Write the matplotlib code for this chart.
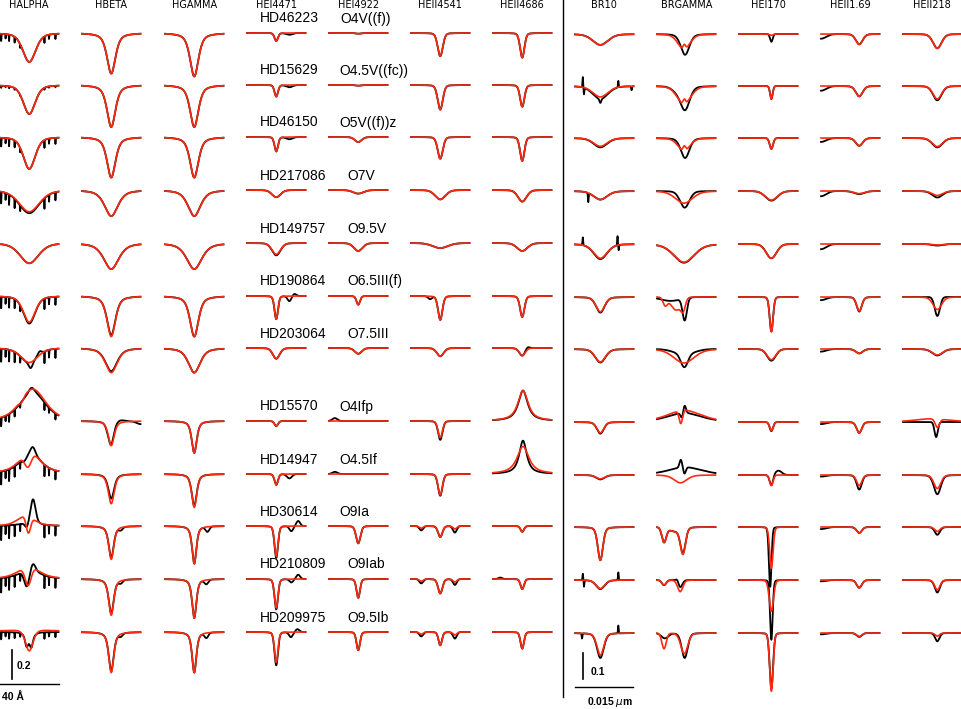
import numpy as np
import matplotlib
matplotlib.use("Agg")
import matplotlib.pyplot as plt
from matplotlib.lines import Line2D

plt.rcParams['font.family'] = ['Liberation Sans', 'DejaVu Sans']

# ---------------------------------------------------------------- data
STARS = ["HD46223", "HD15629", "HD46150", "HD217086", "HD149757", "HD190864",
         "HD203064", "HD15570", "HD14947", "HD30614", "HD210809", "HD209975"]
SPTYPES = ["O4V((f))", "O4.5V((fc))", "O5V((f))z", "O7V", "O9.5V", "O6.5III(f)",
           "O7.5III", "O4Ifp", "O4.5If", "O9Ia", "O9Iab", "O9.5Ib"]
OPT_LINES = ["HALPHA", "HBETA", "HGAMMA", "HEI4471", "HEI4922", "HEII4541", "HEII4686"]
IR_LINES = ["BR10", "BRGAMMA", "HEI170", "HEII1.69", "HEII218"]

# main line: depth of model (red) and observed (black) profile, FWHM in Angstrom
HALPHA_red = [0.20, 0.20, 0.22, 0.15, 0.14, 0.18, 0.10, 0, 0, 0, 0, 0.15]
HALPHA_black = [0.20, 0.20, 0.22, 0.16, 0.14, 0.19, 0.10, 0, 0, 0, 0, 0.07]
HALPHA_fwhm = [10.4, 9.7, 9.7, 16.6, 15.2, 9.7, 13.8, 10, 10, 10, 10, 6.2]

HBETA_red = [0.28, 0.29, 0.28, 0.18, 0.18, 0.28, 0.17, 0.17, 0.205, 0.23, 0.25, 0.28]
HBETA_black = [0.28, 0.29, 0.28, 0.18, 0.18, 0.27, 0.16, 0.145, 0.17, 0.22, 0.24, 0.27]
HBETA_fwhm = [6.9, 6.9, 6.9, 11.0, 12.4, 6.9, 9.7, 4.8, 4.8, 4.1, 4.1, 4.1]

HGAMMA_red = [0.30, 0.29, 0.28, 0.18, 0.18, 0.28, 0.17, 0.22, 0.23, 0.26, 0.27, 0.28]
HGAMMA_black = [0.30, 0.29, 0.28, 0.18, 0.18, 0.28, 0.17, 0.22, 0.22, 0.26, 0.27, 0.28]
HGAMMA_fwhm = [6.9, 6.9, 6.9, 10.4, 12.4, 6.9, 9.7, 4.1, 4.1, 3.5, 3.5, 3.5]

HEI4471_red = [0.055, 0.08, 0.10, 0.05, 0.078, 0.16, 0.074, 0.035, 0.075, 0.21, 0.20, 0.21]
HEI4471_black = [0.055, 0.08, 0.10, 0.05, 0.085, 0.16, 0.074, 0.035, 0.075, 0.22, 0.21, 0.23]
HEI4471_fwhm = [2.8, 2.8, 2.8, 6.9, 6.9, 2.8, 5.5, 2.8, 2.8, 2.8, 2.8, 2.8]

HEI4922_red = [0.005, 0.005, 0.035, 0.025, 0.055, 0.06, 0.04, 0.0, 0.0, 0.12, 0.13, 0.126]
HEI4922_black = [0.005, 0.005, 0.035, 0.025, 0.055, 0.06, 0.04, 0.0, 0.0, 0.12, 0.13, 0.126]
HEI4922_fwhm = [4.1, 4.1, 5.5, 8.3, 6.9, 2.8, 5.5, 2.8, 2.8, 3.5, 2.8, 2.8]

HEII4541_red = [0.16, 0.17, 0.15, 0.065, 0.035, 0.165, 0.057, 0.115, 0.145, 0.076, 0.10, 0.092]
HEII4541_black = [0.16, 0.17, 0.15, 0.065, 0.035, 0.165, 0.057, 0.13, 0.15, 0.076, 0.10, 0.092]
HEII4541_fwhm = [4.1, 4.1, 4.1, 8.3, 12.4, 3.5, 5.5, 3.5, 3.5, 3.5, 3.5, 2.8]

HEII4686_red = [0.17, 0.15, 0.165, 0.08, 0.055, 0.145, 0.053, 0, 0, 0.04, 0.07, 0.115]
HEII4686_black = [0.17, 0.15, 0.165, 0.08, 0.055, 0.145, 0.053, 0, 0, 0.04, 0.07, 0.115]
HEII4686_fwhm = [3.5, 3.5, 3.5, 6.9, 8.3, 3.5, 4.8, 8.3, 9.7, 2.8, 2.8, 2.8]

BR10_red = [0.042, 0.042, 0.032, 0.033, 0.055, 0.057, 0.05, 0.042, 0.015, 0.128, 0.033, 0.086]
BR10_black = [0.042, 0.05, 0.036, 0.033, 0.058, 0.06, 0.052, 0.045, 0.017, 0.128, 0.035, 0.096]
BR10_fwhm = [46.5, 46.5, 41.4, 41.4, 41.4, 25.9, 31.0, 20.7, 25.9, 15.5, 25.9, 20.7]

BRGAMMA_red = [0.06, 0.07, 0.05, 0.047, 0.07, 0, 0.054, 0, 0, 0, 0, 0]
BRGAMMA_black = [0, 0, 0, 0, 0.072, 0, 0, 0, 0, 0, 0, 0]
BRGAMMA_fwhm = [36.2, 41.4, 36.2, 51.7, 62.0, 10, 62.0, 10, 10, 10, 10, 10]

HEI170_red = [0.005, 0.05, 0.042, 0.035, 0.055, 0.133, 0.041, 0.033, 0.041, 0.158, 0.12, 0.224]
HEI170_black = [0, 0.05, 0.042, 0.037, 0.055, 0.133, 0.045, 0.035, 0.041, 0, 0, 0.215]
HEI170_fwhm = [10.3, 7.8, 10.3, 36.2, 31.0, 10.3, 25.9, 10.3, 10.3, 10.3, 12.9, 10.3]

HEII169_red = [0.04, 0.04, 0.03, 0.01, 0.0, 0.054, 0.017, 0.042, 0.041, 0.023, 0.03, 0.013]
HEII169_black = [0.04, 0.04, 0.03, 0.012, 0.0, 0.056, 0.017, 0.042, 0.056, 0.023, 0.03, 0.015]
HEII169_fwhm = [20.7, 20.7, 20.7, 31.0, 20.7, 15.5, 20.7, 15.5, 15.5, 15.5, 15.5, 15.5]
HEII169_edge = [0.018, 0.018, 0.015, 0.02, 0.02, 0.012, 0.01, 0.008, 0.006, 0.008, 0.005, 0.005]

HEII218_red = [0.055, 0.05, 0.033, 0.017, 0.004, 0.048, 0.023, 0.033, 0.052, 0.017, 0.038, 0.012]
HEII218_black = [0.055, 0.055, 0.036, 0.025, 0.006, 0, 0.025, 0, 0.074, 0.03, 0.048, 0.032]
HEII218_fwhm = [25.9, 25.9, 31.0, 31.0, 31.0, 25.9, 31.0, 12.9, 20.7, 15.5, 15.5, 12.9]

# line centre offset (Angstrom) and Lorentz fraction of each column
LINE_SHIFT = [0, 0, 0, 0, 0, 0, 0, -10, -6, 8, 23, 13]
LINE_ETA = [0.4, 0.6, 0.6, 0.2, 0.2, 0.2, 0.2, 0.3, 0.3, 0.1, 0.2, 0.2]

# extra components: (column, row, who, centre [A], amplitude (+em/-abs), FWHM [A], eta)
EXTRA_LINES = [
    ("HALPHA", 6, "b", 1.0, -0.04, 3.0, 0.0),
    ("HALPHA", 6, "b", 7.0, 0.025, 3.0, 0.0),
    ("HALPHA", 7, "r", 2.4, 0.22, 20.7, 0.5),
    ("HALPHA", 7, "r", -5.2, -0.02, 3.0, 0.0),
    ("HALPHA", 7, "b", 2.4, 0.20, 20.7, 0.5),
    ("HALPHA", 7, "b", 1.5, 0.03, 4.0, 0.0),
    ("HALPHA", 8, "r", 0.35, 0.16, 16.6, 0.8),
    ("HALPHA", 8, "r", -0.8, -0.11, 5.5, 0.0),
    ("HALPHA", 8, "b", 1.0, 0.15, 16.6, 0.8),
    ("HALPHA", 8, "b", 2.6, 0.04, 3.5, 0.0),
    ("HALPHA", 8, "b", -3.1, -0.03, 4.0, 0.0),
    ("HALPHA", 9, "r", -2.4, 0.07, 13.8, 0.5),
    ("HALPHA", 9, "r", -0.6, -0.115, 3.5, 0.0),
    ("HALPHA", 9, "b", 2.6, 0.17, 4.1, 0.3),
    ("HALPHA", 9, "b", 0.0, 0.015, 20.0, 0.5),
    ("HALPHA", 9, "b", -1.7, -0.035, 2.8, 0.0),
    ("HALPHA", 10, "r", -0.35, 0.085, 18.0, 0.6),
    ("HALPHA", 10, "r", -0.8, -0.13, 4.8, 0.0),
    ("HALPHA", 10, "b", 0.35, 0.06, 18.0, 0.6),
    ("HALPHA", 10, "b", 2.6, 0.05, 4.1, 0.0),
    ("HALPHA", 10, "b", -1.7, -0.11, 4.1, 0.0),
    ("HALPHA", 11, "r", 0.0, 0.02, 40.0, 1.0),
    ("HALPHA", 11, "b", -1.9, -0.05, 2.0, 0.0),
    ("HALPHA", 11, "b", 1.5, -0.05, 2.0, 0.0),
    ("HBETA", 7, "b", 5.5, 0.015, 8.0, 0.0),
    ("HBETA", 7, "b", -1.4, -0.03, 4.0, 0.0),
    ("HBETA", 7, "b", 20.0, -0.02, 6.0, 0.0),
    ("HBETA", 9, "b", 6.5, -0.02, 3.0, 0.0),
    ("HBETA", 10, "b", 6.5, -0.02, 3.0, 0.0),
    ("HBETA", 11, "b", 6.5, -0.02, 3.0, 0.0),
    ("HGAMMA", 9, "b", 9.0, -0.035, 3.0, 0.0),
    ("HGAMMA", 10, "b", 8.3, -0.03, 3.0, 0.0),
    ("HGAMMA", 11, "b", 8.3, -0.035, 3.0, 0.0),
    ("HEI4471", 0, "b", 9.0, -0.012, 5.0, 0.0),
    ("HEI4471", 1, "b", 9.0, -0.015, 5.0, 0.0),
    ("HEI4471", 2, "b", 9.0, -0.015, 5.0, 0.0),
    ("HEI4471", 5, "b", 9.0, -0.035, 3.0, 0.0),
    ("HEI4471", 5, "b", 12.4, 0.015, 3.0, 0.0),
    ("HEI4471", 8, "b", 9.0, -0.03, 4.0, 0.0),
    ("HEI4471", 9, "b", 10.3, -0.035, 3.0, 0.0),
    ("HEI4471", 9, "b", 15.0, 0.035, 3.0, 0.0),
    ("HEI4471", 10, "b", 10.3, -0.023, 3.0, 0.0),
    ("HEI4471", 10, "b", 15.0, 0.03, 3.0, 0.0),
    ("HEI4471", 11, "b", 10.0, -0.035, 3.0, 0.0),
    ("HEI4471", 11, "b", 14.5, 0.02, 3.0, 0.0),
    ("HEI4922", 7, "b", -16.0, 0.02, 4.0, 0.0),
    ("HEI4922", 8, "b", -16.0, 0.015, 4.0, 0.0),
    ("HEII4541", 5, "b", -7.0, -0.02, 3.0, 0.0),
    ("HEII4541", 9, "b", -13.0, -0.03, 3.0, 0.0),
    ("HEII4541", 9, "b", 10.0, -0.045, 3.0, 0.0),
    ("HEII4541", 9, "r", -13.0, -0.015, 3.0, 0.0),
    ("HEII4541", 9, "r", 10.0, -0.02, 3.0, 0.0),
    ("HEII4541", 10, "b", -13.0, -0.03, 3.0, 0.0),
    ("HEII4541", 10, "b", 10.0, -0.04, 3.0, 0.0),
    ("HEII4541", 10, "r", -13.0, -0.015, 3.0, 0.0),
    ("HEII4541", 10, "r", 10.0, -0.02, 3.0, 0.0),
    ("HEII4541", 11, "b", -13.0, -0.03, 3.0, 0.0),
    ("HEII4541", 11, "b", 10.0, -0.045, 3.0, 0.0),
    ("HEII4541", 11, "r", -13.0, -0.015, 3.0, 0.0),
    ("HEII4541", 11, "r", 10.0, -0.02, 3.0, 0.0),
    ("HEII4686", 6, "b", 3.5, 0.015, 3.0, 0.0),
    ("HEII4686", 7, "r", 0.5, 0.21, 8.3, 0.9),
    ("HEII4686", 7, "b", 0.5, 0.21, 7.6, 0.9),
    ("HEII4686", 8, "r", 0.5, 0.19, 9.7, 0.9),
    ("HEII4686", 8, "b", 0.5, 0.23, 6.2, 0.9),
    ("HEII4686", 10, "b", -15.0, 0.01, 3.0, 0.0),
    ("BR10", 1, "b", -10.0, -0.015, 5.0, 0.0),
    ("BR10", 1, "b", -55.0, 0.04, 2.0, 0.0),
    ("BR10", 1, "b", -52.0, -0.025, 2.0, 0.0),
    ("BR10", 1, "b", 36.0, 0.025, 2.0, 0.0),
    ("BR10", 1, "b", 70.0, -0.015, 2.0, 0.0),
    ("BR10", 3, "b", -41.0, -0.035, 2.0, 0.0),
    ("BR10", 4, "b", -55.0, 0.03, 2.0, 0.0),
    ("BR10", 4, "b", 34.0, 0.035, 2.0, 0.0),
    ("BR10", 4, "b", 37.0, -0.02, 2.0, 0.0),
    ("BR10", 10, "b", -55.0, 0.025, 2.0, 0.0),
    ("BR10", 10, "b", -52.0, -0.025, 2.0, 0.0),
    ("BR10", 10, "b", 36.0, 0.03, 2.0, 0.0),
    ("BR10", 11, "b", 36.0, 0.03, 2.0, 0.0),
    ("BR10", 11, "b", -57.0, -0.02, 2.0, 0.0),
    ("BRGAMMA", 0, "r", -5.0, 0.02, 8.0, 0.0),
    ("BRGAMMA", 0, "b", -3.0, -0.08, 26.0, 0.3),
    ("BRGAMMA", 1, "r", -5.0, 0.02, 8.0, 0.0),
    ("BRGAMMA", 1, "b", -3.0, -0.09, 28.0, 0.3),
    ("BRGAMMA", 1, "b", -25.0, -0.015, 30.0, 0.0),
    ("BRGAMMA", 2, "r", -5.0, 0.02, 8.0, 0.0),
    ("BRGAMMA", 2, "b", -3.0, -0.077, 26.0, 0.3),
    ("BRGAMMA", 3, "b", -4.0, -0.064, 28.0, 0.2),
    ("BRGAMMA", 5, "r", -54.0, -0.03, 13.0, 0.0),
    ("BRGAMMA", 5, "r", -26.0, -0.05, 31.0, 0.0),
    ("BRGAMMA", 5, "r", -8.0, -0.04, 13.0, 0.0),
    ("BRGAMMA", 5, "b", -4.0, -0.085, 13.0, 0.0),
    ("BRGAMMA", 5, "b", -40.0, -0.015, 60.0, 0.0),
    ("BRGAMMA", 6, "b", -5.0, -0.05, 21.0, 0.0),
    ("BRGAMMA", 6, "b", -5.0, -0.02, 62.0, 0.0),
    ("BRGAMMA", 7, "r", -5.0, 0.045, 103.0, 0.5),
    ("BRGAMMA", 7, "r", -14.0, -0.05, 10.0, 0.0),
    ("BRGAMMA", 7, "b", -5.0, 0.035, 103.0, 0.5),
    ("BRGAMMA", 7, "b", -4.4, 0.03, 8.0, 0.0),
    ("BRGAMMA", 7, "b", -11.0, -0.02, 8.0, 0.0),
    ("BRGAMMA", 8, "r", -15.0, -0.03, 39.0, 0.3),
    ("BRGAMMA", 8, "b", -3.0, 0.03, 103.0, 0.5),
    ("BRGAMMA", 8, "b", -14.0, 0.03, 8.0, 0.0),
    ("BRGAMMA", 8, "b", -4.5, -0.025, 8.0, 0.0),
    ("BRGAMMA", 9, "rb", -57.0, -0.055, 13.0, 0.0),
    ("BRGAMMA", 9, "rb", -30.0, -0.015, 40.0, 0.0),
    ("BRGAMMA", 9, "r", -8.5, -0.099, 15.5, 0.2),
    ("BRGAMMA", 9, "b", -8.5, -0.095, 15.5, 0.2),
    ("BRGAMMA", 10, "r", -57.0, -0.019, 13.0, 0.0),
    ("BRGAMMA", 10, "r", -15.5, -0.045, 15.5, 0.2),
    ("BRGAMMA", 10, "b", -57.0, -0.02, 13.0, 0.0),
    ("BRGAMMA", 10, "b", -23.0, 0.01, 8.0, 0.0),
    ("BRGAMMA", 10, "b", -15.5, -0.028, 13.0, 0.2),
    ("BRGAMMA", 11, "r", -57.0, -0.06, 13.0, 0.0),
    ("BRGAMMA", 11, "r", -5.0, -0.08, 21.0, 0.2),
    ("BRGAMMA", 11, "b", -55.0, -0.02, 21.0, 0.0),
    ("BRGAMMA", 11, "b", -4.0, -0.096, 18.0, 0.2),
    ("HEI170", 0, "b", 8.0, -0.03, 8.0, 0.0),
    ("HEI170", 8, "b", 26.0, 0.017, 20.0, 0.0),
    ("HEI170", 9, "b", 5.0, -0.23, 7.8, 0.1),
    ("HEI170", 10, "b", 8.0, -0.23, 7.8, 0.1),
    ("HEII218", 5, "b", 13.0, -0.073, 15.5, 0.0),
    ("HEII218", 7, "r", 0.0, 0.013, 100.0, 0.5),
    ("HEII218", 7, "b", 10.0, -0.058, 10.0, 0.0),
]

# telluric absorption in the observed H-alpha spectra
TELLURIC_POS = [-19.2, -16.2, -13.8, -10.0, -6.2, 10.4, 13.5, 17.9]
TELLURIC_REL = [1.0, 0.6, 0.9, 0.8, 0.5, 0.9, 0.6, 0.7]
TELLURIC_DEPTH = [0.05, 0.015, 0.06, 0.08, 0.0, 0.08, 0.09, 0.06, 0.09, 0.10, 0.10, 0.05]

COLUMN_DATA = [
    ("HALPHA", HALPHA_red, HALPHA_black, HALPHA_fwhm),
    ("HBETA", HBETA_red, HBETA_black, HBETA_fwhm),
    ("HGAMMA", HGAMMA_red, HGAMMA_black, HGAMMA_fwhm),
    ("HEI4471", HEI4471_red, HEI4471_black, HEI4471_fwhm),
    ("HEI4922", HEI4922_red, HEI4922_black, HEI4922_fwhm),
    ("HEII4541", HEII4541_red, HEII4541_black, HEII4541_fwhm),
    ("HEII4686", HEII4686_red, HEII4686_black, HEII4686_fwhm),
    ("BR10", BR10_red, BR10_black, BR10_fwhm),
    ("BRGAMMA", BRGAMMA_red, BRGAMMA_black, BRGAMMA_fwhm),
    ("HEI170", HEI170_red, HEI170_black, HEI170_fwhm),
    ("HEII1.69", HEII169_red, HEII169_black, HEII169_fwhm),
    ("HEII218", HEII218_red, HEII218_black, HEII218_fwhm),
]


def pvoigt(x, c, a, w, eta):
    d = (x - c) / w
    lor = 1.0 / (1.0 + 4.0 * d * d)
    gau = np.exp(-4.0 * np.log(2.0) * d * d)
    return a * (eta * lor + (1.0 - eta) * gau)


# ---------------------------------------------------------------- layout
W, H = 962, 709
fig = plt.figure(figsize=(W / 100, H / 100), dpi=100)
COL_X0 = [0, 82, 165, 247, 329, 411, 493, 575, 657, 739, 821, 903]
ROW_Y = [33, 85, 137, 190, 243, 296, 348, 421, 474, 526, 579, 632]
PANEL_W = 58.5
HALF_H = 90
OPT_PX_PER_FLUX = 145.0
IR_PX_PER_FLUX = 260.0
OPT_HALF_RANGE = 20.0    # Angstrom
IR_HALF_RANGE = 75.0     # Angstrom (0.015 micron full width)
RED = "#ff2a10"

axes_grid = {}
for c, (name, red_d, blk_d, fwhm) in enumerate(COLUMN_DATA):
    ir = c >= len(OPT_LINES)
    s = IR_PX_PER_FLUX if ir else OPT_PX_PER_FLUX
    hr = IR_HALF_RANGE if ir else OPT_HALF_RANGE
    x = np.linspace(-hr, hr, 2400)
    for r in range(len(STARS)):
        cy = ROW_Y[r] + (1 if ir else 0)
        ax = fig.add_axes([COL_X0[c] / W, (H - cy - HALF_H) / H, PANEL_W / W, 2 * HALF_H / H])
        ax.set_axis_off()
        ax.set_xlim(-hr, hr)
        ax.set_ylim(1 - HALF_H / s, 1 + HALF_H / s)
        red = 1.0 + pvoigt(x, LINE_SHIFT[c], -red_d[r], fwhm[r], LINE_ETA[c])
        blk = 1.0 + pvoigt(x, LINE_SHIFT[c], -blk_d[r], fwhm[r], LINE_ETA[c])
        for (cn, rr, who, cen, amp, w, eta) in EXTRA_LINES:
            if cn == name and rr == r:
                comp = pvoigt(x, cen, amp, w, eta)
                if "r" in who:
                    red = red + comp
                if "b" in who:
                    blk = blk + comp
        if name == "HALPHA":
            for p, rel in zip(TELLURIC_POS, TELLURIC_REL):
                blk = blk + pvoigt(x, p, -TELLURIC_DEPTH[r] * rel, 0.25, 0.0)
        if name == "HEII1.69":
            blk = blk + pvoigt(x, -hr, -HEII169_edge[r], 31.0, 0.0)
        ax.plot(x, blk, color="black", lw=1.3, clip_on=False)
        ax.plot(x, red, color=RED, lw=1.2, clip_on=False)
        axes_grid[(r, c)] = ax

# column titles
for c, name in enumerate(OPT_LINES + IR_LINES):
    fig.text((COL_X0[c] + PANEL_W / 2) / W, 1 - 5 / H, name, ha="center", va="center",
             fontsize=7, family=["DejaVu Sans"])

# star names and spectral types
for r, (star, spt) in enumerate(zip(STARS, SPTYPES)):
    t = fig.text(260 / W, 1 - (ROW_Y[r] - 14.5) / H, star, ha="left", va="center", fontsize=10)
    plt.annotate(spt, xy=(1, 0.5), xycoords=t, xytext=(21, 0), textcoords="offset pixels",
                 ha="left", va="center", fontsize=10)

# scale bars (optical)
ax = axes_grid[(11, 0)]
ax.plot([-12.0, -12.0], [0.676, 0.676 + 0.2], color="black", lw=1.2, clip_on=False)
ax.plot([-20.0, 20.0], [0.641, 0.641], color="black", lw=1.0, clip_on=False)
ax.text(-8.4, 0.766, "0.2", ha="left", va="center", fontsize=7.5, fontweight="bold")
ax.text(-18.6, 0.552, "40 Å", ha="left", va="center", fontsize=7.5, fontweight="bold")

# scale bars (infrared)
ax = axes_grid[(11, 7)]
ax.plot([-54.5, -54.5], [0.823, 0.823 + 0.1], color="black", lw=1.2, clip_on=False)
ax.plot([-75.0, 75.0], [0.792, 0.792], color="black", lw=1.0, clip_on=False)
ax.text(-34.0, 0.85, "0.1", ha="left", va="center", fontsize=7.5, fontweight="bold")
ax.text(-44.0, 0.735, r"0.015 $\mu$m", ha="left", va="center", fontsize=7.5, fontweight="bold")

# divider between optical and infrared
fig.add_artist(Line2D([563 / W, 563 / W], [1.0, (H - 697) / H], color="black", lw=1.0))

fig.savefig("out.png", dpi=100)
